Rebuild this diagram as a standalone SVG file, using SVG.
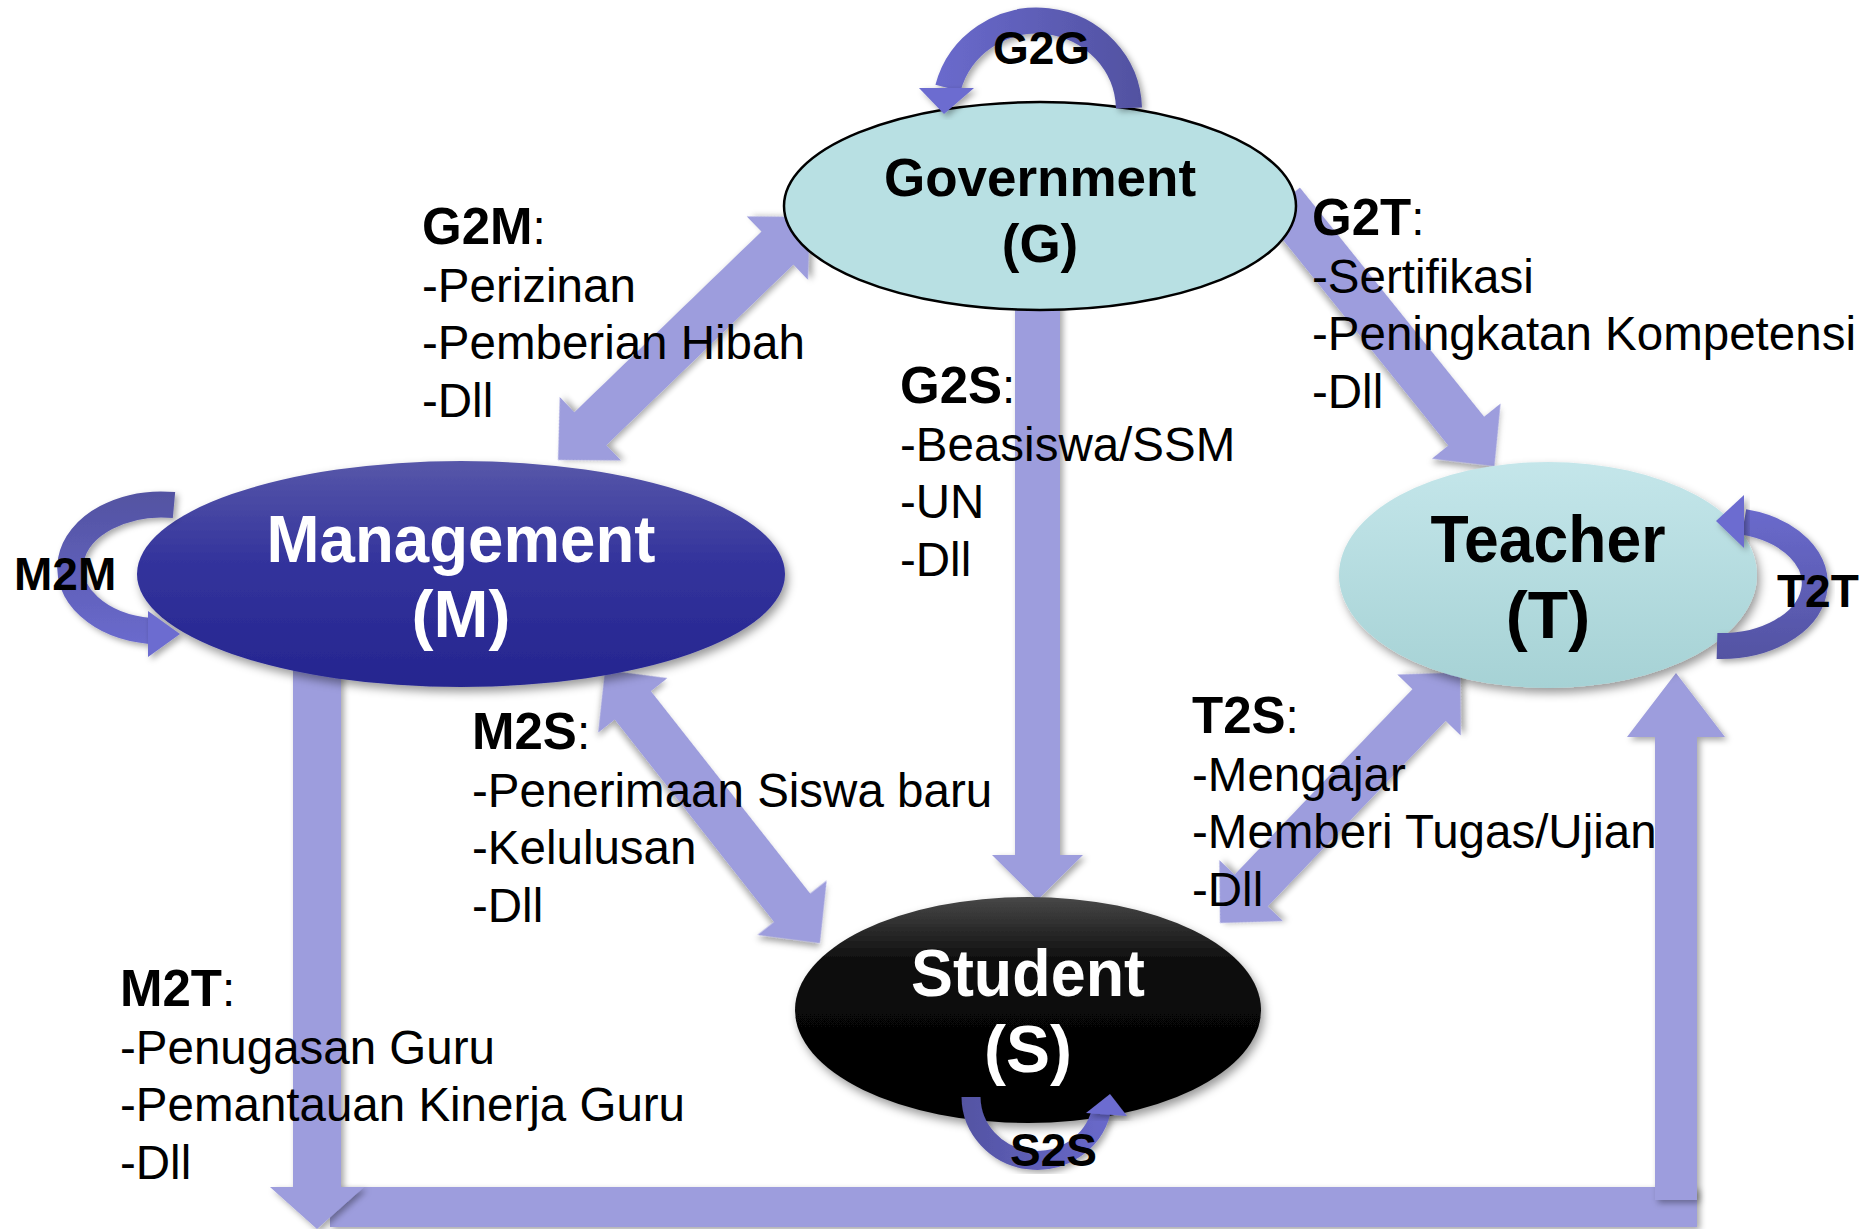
<svg xmlns="http://www.w3.org/2000/svg" width="1874" height="1229" viewBox="0 0 1874 1229">
  <defs>
    <style>
      .flow { fill: #9d9ddd; filter: url(#arrowShadow); }
      .loop { fill: none; stroke-linecap: butt; filter: url(#arrowShadow); }
      .head { filter: url(#arrowShadow); }
      .node-text { font-family: "Liberation Sans", Arial, Helvetica, sans-serif; font-weight: bold; text-anchor: middle; }
      .lbl { font-family: "Liberation Sans", Arial, Helvetica, sans-serif; font-size: 47.5px; fill: #000; }
      .key { font-weight: bold; font-size: 51px; }
      .loop-lbl { font-family: "Liberation Sans", Arial, Helvetica, sans-serif; font-weight: bold; font-size: 46px; fill: #000; }
    </style>
    <filter id="arrowShadow" x="-20%" y="-20%" width="140%" height="140%">
      <feDropShadow dx="3" dy="3" stdDeviation="3" flood-color="#000" flood-opacity="0.35"/>
    </filter>
    <filter id="nodeShadow" x="-20%" y="-20%" width="140%" height="150%">
      <feDropShadow dx="3" dy="5" stdDeviation="5" flood-color="#000" flood-opacity="0.4"/>
    </filter>
    <linearGradient id="gradM" x1="0" y1="0" x2="0" y2="1">
      <stop offset="0" stop-color="#5757a9"/>
      <stop offset="0.45" stop-color="#33339c"/>
      <stop offset="1" stop-color="#25258f"/>
    </linearGradient>
    <linearGradient id="gradT" x1="0" y1="0" x2="0" y2="1">
      <stop offset="0" stop-color="#c4e6ea"/>
      <stop offset="1" stop-color="#a6d2d5"/>
    </linearGradient>
    <linearGradient id="gradS" x1="0" y1="0" x2="0" y2="1">
      <stop offset="0" stop-color="#484848"/>
      <stop offset="0.3" stop-color="#0a0a0a"/>
      <stop offset="1" stop-color="#000"/>
    </linearGradient>
    <linearGradient id="gradG2G" gradientUnits="userSpaceOnUse" x1="920" y1="0" x2="1145" y2="0">
      <stop offset="0" stop-color="#6c6cd0"/>
      <stop offset="1" stop-color="#5151a0"/>
    </linearGradient>
    <linearGradient id="gradM2M" gradientUnits="userSpaceOnUse" x1="0" y1="495" x2="0" y2="655">
      <stop offset="0" stop-color="#5353a2"/>
      <stop offset="1" stop-color="#6c6cd0"/>
    </linearGradient>
    <linearGradient id="gradT2T" gradientUnits="userSpaceOnUse" x1="0" y1="495" x2="0" y2="660">
      <stop offset="0" stop-color="#6c6cd0"/>
      <stop offset="1" stop-color="#5353a2"/>
    </linearGradient>
    <linearGradient id="gradS2S" gradientUnits="userSpaceOnUse" x1="960" y1="0" x2="1128" y2="0">
      <stop offset="0" stop-color="#5353a2"/>
      <stop offset="1" stop-color="#6c6cd0"/>
    </linearGradient>
  </defs>

  <rect width="1874" height="1229" fill="#fff"/>

  <!-- flows between the four actors -->
  <g id="connectors">
    <!-- G2M: Government <-> Management -->
    <polygon class="flow" transform="translate(558,460) rotate(-44)"
             points="0,0 45,-44 45,-23 305,-23 305,-44 350,0 305,44 305,23 45,23 45,44"/>
    <!-- G2T: Government -> Teacher -->
    <polygon class="flow" transform="translate(1282,202) rotate(51.2)"
             points="0,-23 294,-23 294,-44 339,0 294,44 294,23 0,23"/>
    <!-- G2S: Government -> Student -->
    <polygon class="flow" points="1015,300 1060,300 1060,855 1083,855 1037.5,900 992,855 1015,855"/>
    <!-- M2S: Management <-> Student -->
    <polygon class="flow" transform="translate(605,670) rotate(51.8)"
             points="0,0 45,-44 45,-23 302.5,-23 302.5,-44 347.5,0 302.5,44 302.5,23 45,23 45,44"/>
    <!-- T2S: Teacher <-> Student -->
    <polygon class="flow" transform="translate(1220,923) rotate(-46.2)"
             points="0,0 45,-44 45,-23 302,-23 302,-44 347,0 302,44 302,23 45,23 45,44"/>
    <!-- M2T: Management -> Teacher, routed along the bottom -->
    <rect class="flow" x="330" y="1187" width="1367" height="40"/>
    <polygon class="flow" points="293,670 341,670 341,1187 364,1187 317,1229 270,1187 293,1187"/>
    <polygon class="flow" points="1655,1200 1655,737 1627,737 1676,673 1725,737 1697,737 1697,1200"/>
  </g>

  <g id="node-government">
    <ellipse cx="1040" cy="206" rx="256" ry="104" fill="#b8e0e3" stroke="#000" stroke-width="2.5"/>
    <text class="node-text" x="1040" y="196" font-size="53" fill="#000">Government</text>
    <text class="node-text" x="1040" y="262" font-size="53" fill="#000">(G)</text>
  </g>

  <g id="node-management">
    <ellipse cx="461" cy="574" rx="324" ry="113" fill="url(#gradM)" filter="url(#nodeShadow)"/>
    <text class="node-text" x="461" y="562" font-size="66" fill="#fff" textLength="389" lengthAdjust="spacingAndGlyphs">Management</text>
    <text class="node-text" x="461" y="637" font-size="66" fill="#fff">(M)</text>
  </g>

  <g id="node-teacher">
    <ellipse cx="1548" cy="575" rx="209" ry="113" fill="url(#gradT)" filter="url(#nodeShadow)"/>
    <text class="node-text" x="1548" y="562" font-size="66" fill="#000" textLength="235" lengthAdjust="spacingAndGlyphs">Teacher</text>
    <text class="node-text" x="1548" y="638" font-size="66" fill="#000">(T)</text>
  </g>

  <g id="node-student">
    <ellipse cx="1028" cy="1010" rx="233" ry="113" fill="url(#gradS)" filter="url(#nodeShadow)"/>
    <text class="node-text" x="1028" y="996" font-size="66" fill="#fff" textLength="234" lengthAdjust="spacingAndGlyphs">Student</text>
    <text class="node-text" x="1028" y="1072" font-size="66" fill="#fff">(S)</text>
  </g>

  <!-- internal flows of each actor -->
  <g id="self-loops">
    <g id="loop-g2g">
      <path class="loop" d="M 1129 108 A 92 90 0 0 0 948 88" stroke="url(#gradG2G)" stroke-width="26"/>
      <polygon class="head" points="919,88 974,88 944,114" fill="#6c6cd0"/>
    </g>
    <g id="loop-m2m">
      <path class="loop" d="M 174 505 A 91 63 0 0 0 150 631" stroke="url(#gradM2M)" stroke-width="26"/>
      <polygon class="head" points="148,611 148,657 180,634" fill="#6c6cd0"/>
    </g>
    <g id="loop-t2t">
      <path class="loop" d="M 1717 646 A 94 63 0 0 0 1744 522" stroke="url(#gradT2T)" stroke-width="26"/>
      <polygon class="head" points="1716,521 1744,495 1744,548" fill="#6c6cd0"/>
    </g>
    <g id="loop-s2s">
      <path class="loop" d="M 971 1097 A 66 64 0 0 0 1101 1112" stroke="url(#gradS2S)" stroke-width="19"/>
      <polygon class="head" points="1086,1113 1127,1116 1110,1094" fill="#6c6cd0"/>
    </g>
  </g>

  <g id="labels">
    <text class="loop-lbl" x="993" y="64">G2G</text>
    <text class="loop-lbl" x="14" y="590">M2M</text>
    <text class="loop-lbl" x="1777" y="607">T2T</text>
    <text class="loop-lbl" x="1010" y="1166">S2S</text>

    <text class="lbl" x="422" y="244"><tspan class="key">G2M</tspan>:<tspan x="422" dy="57.5">-Perizinan</tspan><tspan x="422" dy="57.5">-Pemberian Hibah</tspan><tspan x="422" dy="57.5">-Dll</tspan></text>

    <text class="lbl" x="1312" y="235"><tspan class="key">G2T</tspan>:<tspan x="1312" dy="57.5">-Sertifikasi</tspan><tspan x="1312" dy="57.5">-Peningkatan Kompetensi</tspan><tspan x="1312" dy="57.5">-Dll</tspan></text>

    <text class="lbl" x="900" y="403"><tspan class="key">G2S</tspan>:<tspan x="900" dy="57.5">-Beasiswa/SSM</tspan><tspan x="900" dy="57.5">-UN</tspan><tspan x="900" dy="57.5">-Dll</tspan></text>

    <text class="lbl" x="472" y="749"><tspan class="key">M2S</tspan>:<tspan x="472" dy="57.5">-Penerimaan Siswa baru</tspan><tspan x="472" dy="57.5">-Kelulusan</tspan><tspan x="472" dy="57.5">-Dll</tspan></text>

    <text class="lbl" x="1192" y="733"><tspan class="key">T2S</tspan>:<tspan x="1192" dy="57.5">-Mengajar</tspan><tspan x="1192" dy="57.5">-Memberi Tugas/Ujian</tspan><tspan x="1192" dy="57.5">-Dll</tspan></text>

    <text class="lbl" x="120" y="1006"><tspan class="key">M2T</tspan>:<tspan x="120" dy="57.5">-Penugasan Guru</tspan><tspan x="120" dy="57.5">-Pemantauan Kinerja Guru</tspan><tspan x="120" dy="57.5">-Dll</tspan></text>
  </g>
</svg>
